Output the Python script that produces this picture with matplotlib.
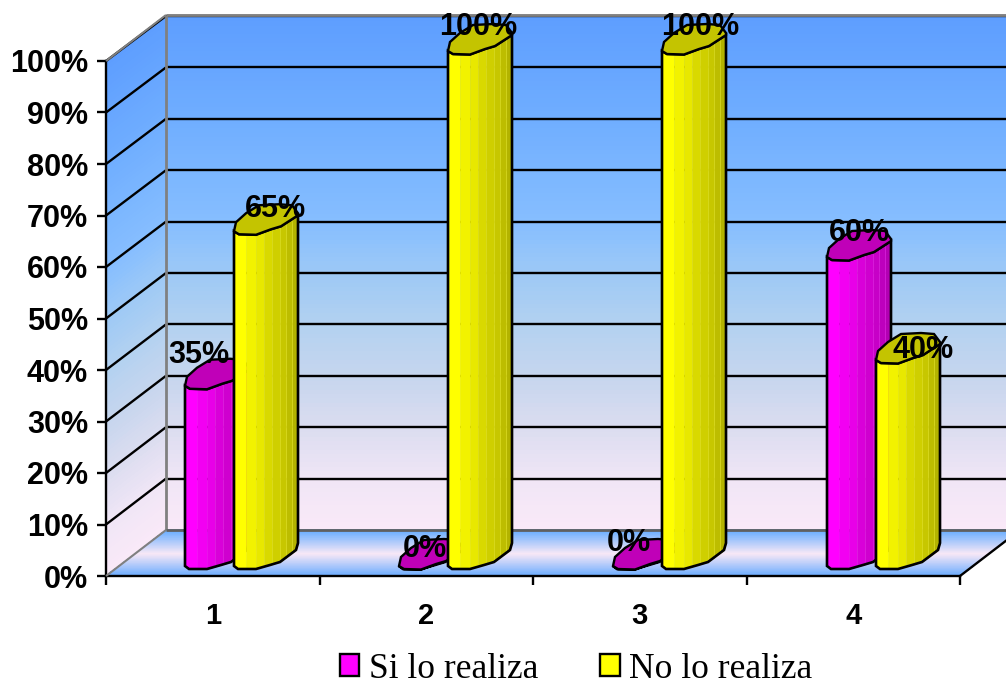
import numpy as np
import matplotlib
matplotlib.use("Agg")
import matplotlib.pyplot as plt
from matplotlib.collections import PolyCollection
from matplotlib.colors import LinearSegmentedColormap, to_rgb
from matplotlib.patches import Patch, Polygon

# Data
categories = ["1", "2", "3", "4"]
si_lo_realiza = [35, 0, 0, 60]
no_lo_realiza = [65, 100, 100, 40]
y_ticks = list(range(0, 101, 10))
series_names = ["Si lo realiza", "No lo realiza"]

# Layout: plot box in pixels and the 3D depth of the chart
W, H = 1006, 683
LEFT, RIGHT, BOTTOM, TOP = 106, 960, 576, 61
PX = (RIGHT - LEFT) / 4     # pixels per category
PY = (BOTTOM - TOP) / 100   # pixels per percent
DEPTH_X, DEPTH_Y = 60, 46

# Bar shape, in pixels from the bar's left edge
BAR_STEP = 214
BAR_OFFSET = [79, 128]
BAR_BASE = 7          # bar foot above the axis line
BAR_ZERO = 10         # front of the cap for a 0% bar
TOP_EDGE = [(0, 0), (5, 3), (22, 3.5), (37, -2), (47, -5), (64, -16)]
CAP_BACK = [(64, -18), (58, -26), (45, -27), (25, -26), (12, -18), (2, -9)]
FOOT_EDGE = [(0, -3), (4, 0), (22, 0), (36, -4), (46, -7), (62, -19), (64, -26)]
BANDS = [0, 12, 22, 30, 38, 46, 52, 58, 64]
BAND_SHADE = [1.0, 0.95, 0.91, 0.85, 0.81, 0.78, 0.74, 0.70]
SEPARATORS = [30, 38, 46, 52, 58]

# Label offsets in pixels from the bar's left edge and cap front (hand placed)
LABEL_OFFSETS = [
    [(14, 31), (26, 17), (16, 23), (32, 24)],
    [(41, 22), (30, 24), (38, 24), (47, 10)],
]

wall_cmap = LinearSegmentedColormap.from_list("wall", [
    (0.0, "#fae9f8"), (0.10, "#f0e6f6"), (0.195, "#dcddf0"), (0.29, "#c8d6ee"),
    (0.39, "#b5d2f0"), (0.49, "#a0caf5"), (0.60, "#86beff"), (0.80, "#70aeff"),
    (1.0, "#5e9eff"),
])
floor_cmap = LinearSegmentedColormap.from_list("floor", [
    (0.0, "#66aaff"), (0.5, "#f8e8f6"), (1.0, "#6aaeff"),
])


def to_data(px, py):
    return (np.asarray(px) - LEFT) / PX, (BOTTOM - np.asarray(py)) / PY


def strips(ax, corners_low, corners_high, cmap, n=120, zorder=1):
    # shaded quad: interpolates from low edge to high edge
    low = np.array(corners_low, float)
    high = np.array(corners_high, float)
    polys, cols = [], []
    for k in range(n):
        f0, f1 = k / n, (k + 1) / n
        a = low + (high - low) * f0
        b = low + (high - low) * f1
        polys.append(np.array([a[0], a[1], b[1], b[0]]))
        cols.append(cmap((f0 + f1) / 2))
    pc = PolyCollection(polys, facecolors=cols, edgecolors=cols, linewidths=0.3,
                        antialiaseds=False, zorder=zorder, clip_on=False)
    ax.add_collection(pc)


def px_line(ax, xs, ys, color="black", lw=1.7, zorder=2):
    dx, dy = to_data(xs, ys)
    ax.plot(dx, dy, color=color, lw=lw, zorder=zorder, clip_on=False,
            solid_capstyle="butt")


def draw_bar(ax, cat, ser, value, color, cap_color, zorder):
    x0 = LEFT + cat * BAR_STEP + BAR_OFFSET[ser]
    y_top = BOTTOM - BAR_ZERO - value * PY
    y_foot = BOTTOM - BAR_BASE

    top = np.array(TOP_EDGE, float)
    foot = np.array(FOOT_EDGE, float)
    base = np.array(to_rgb(color))
    for j, shade in enumerate(BAND_SHADE):
        xs = np.linspace(BANDS[j], BANDS[j + 1], 12)
        upper = y_top + np.interp(xs, top[:, 0], top[:, 1])
        lower = y_foot + np.interp(xs, foot[:, 0], foot[:, 1])
        dx, dy_up = to_data(x0 + xs, upper)
        _, dy_lo = to_data(x0 + xs, lower)
        ax.fill_between(dx, dy_lo, dy_up, color=base * shade, lw=0.3,
                        zorder=zorder, clip_on=False)
    if value > 0:
        for s in SEPARATORS:
            up = y_top + np.interp(s, top[:, 0], top[:, 1])
            lo = y_foot + np.interp(s, foot[:, 0], foot[:, 1])
            px_line(ax, [x0 + s, x0 + s], [up, lo], color=base * 0.75 + 0.12, lw=0.5,
                    zorder=zorder)

    outline = [(x0 + a, y_top + b) for a, b in TOP_EDGE]
    outline += [(x0 + a, y_foot + b) for a, b in FOOT_EDGE[::-1]]
    ox, oy = to_data(*zip(*outline))
    ax.add_patch(Polygon(np.column_stack([ox, oy]), closed=True, fill=False,
                         ec="black", lw=1.9, zorder=zorder + 0.1, clip_on=False))

    cap = [(x0 + a, y_top + b) for a, b in TOP_EDGE + CAP_BACK]
    cx, cy = to_data(*zip(*cap))
    ax.add_patch(Polygon(np.column_stack([cx, cy]), closed=True, fc=cap_color,
                         ec="black", lw=1.7, zorder=zorder + 0.2, clip_on=False))
    return x0, y_top


fig = plt.figure(figsize=(W / 100, H / 100), dpi=100, facecolor="white")
ax = fig.add_axes([LEFT / W, 1 - BOTTOM / H, (RIGHT - LEFT) / W, (BOTTOM - TOP) / H])
ax.set_xlim(0, 4)
ax.set_ylim(0, 100)
ax.patch.set_visible(False)

# Walls and floor
back_x0, back_x1 = LEFT + DEPTH_X, W + 5
back_floor, back_top = BOTTOM - DEPTH_Y, TOP - 45
strips(ax,
       [to_data(back_x0, back_floor), to_data(back_x1, back_floor)],
       [to_data(back_x0, back_top), to_data(back_x1, back_top)], wall_cmap)
strips(ax,
       [to_data(LEFT, BOTTOM), to_data(back_x0, back_floor)],
       [to_data(LEFT, TOP), to_data(back_x0, back_top)], wall_cmap)
strips(ax,
       [to_data(LEFT, BOTTOM), to_data(RIGHT, BOTTOM)],
       [to_data(back_x0, back_floor), to_data(RIGHT + DEPTH_X, back_floor)],
       floor_cmap)

# Gridlines on the back and left wall
for v in y_ticks:
    y_back = back_floor - v * (back_floor - back_top) / 100
    y_front = BOTTOM - v * PY
    if v > 0:
        px_line(ax, [back_x0, back_x1], [y_back, y_back])
        px_line(ax, [LEFT, back_x0], [y_front, y_back])

# Wall edges
px_line(ax, [back_x0, back_x0], [back_top - 1, back_floor], color="#808080", lw=2, zorder=3)
px_line(ax, [back_x0, back_x1], [back_top - 1, back_top - 1], color="#808080", lw=2, zorder=3)
px_line(ax, [back_x0, back_x1], [back_floor, back_floor], color="#606060", lw=2, zorder=3)
px_line(ax, [LEFT, back_x0], [TOP, back_top - 1], color="#808080", lw=1.5, zorder=3)
px_line(ax, [LEFT, back_x0], [BOTTOM, back_floor], color="#808080", lw=1.5, zorder=3)
px_line(ax, [RIGHT, RIGHT + DEPTH_X], [BOTTOM, back_floor], zorder=3)

# Bars
series = [si_lo_realiza, no_lo_realiza]
colors = ["#ff00ff", "#ffff00"]
cap_colors = ["#c000b8", "#c4c400"]
for s, values in enumerate(series):
    for c, v in enumerate(values):
        x0, y_top = draw_bar(ax, c, s, v, colors[s], cap_colors[s], 4 + s + c * 0.01)
        off = LABEL_OFFSETS[s][c]
        dx, dy = to_data(x0, y_top)
        ax.annotate(f"{v}%", xy=(dx, dy), xytext=(off[0], off[1]),
                    textcoords="offset pixels", ha="center", va="center",
                    family="Liberation Sans", fontweight="bold", fontsize=22,
                    color="black", zorder=10, annotation_clip=False)

# Axes
for side in ["top", "right"]:
    ax.spines[side].set_visible(False)
for side in ["left", "bottom"]:
    ax.spines[side].set_linewidth(1.7)
    ax.spines[side].set_color("black")
ax.set_yticks(y_ticks)
ax.set_yticklabels([f"{v}%" for v in y_ticks], family="Liberation Sans",
                   fontweight="bold", fontsize=22)
ax.set_xticks(range(5))
ax.set_xticklabels([])
ax.tick_params(axis="y", length=6.5, width=1.7, pad=6.5)
ax.tick_params(axis="x", length=6.5, width=1.7)
for c, name in enumerate(categories):
    ax.annotate(name, xy=(c + 0.5, 0), xytext=(0, -40), textcoords="offset pixels",
                ha="center", va="center", family="Liberation Sans",
                fontweight="bold", fontsize=21, annotation_clip=False)

# Legend
handles = [Patch(fc=colors[i], ec="black", lw=1.7, label=series_names[i]) for i in range(2)]
fig.legend(handles=handles, loc="center", bbox_to_anchor=(576 / W, 1 - 669 / H),
           ncol=2, frameon=False, borderpad=0, handlelength=0.55, handleheight=0.55,
           handletextpad=0.27, columnspacing=1.75,
           prop={"family": "Liberation Serif", "size": 25.5})

fig.savefig("out.png", dpi=100)
